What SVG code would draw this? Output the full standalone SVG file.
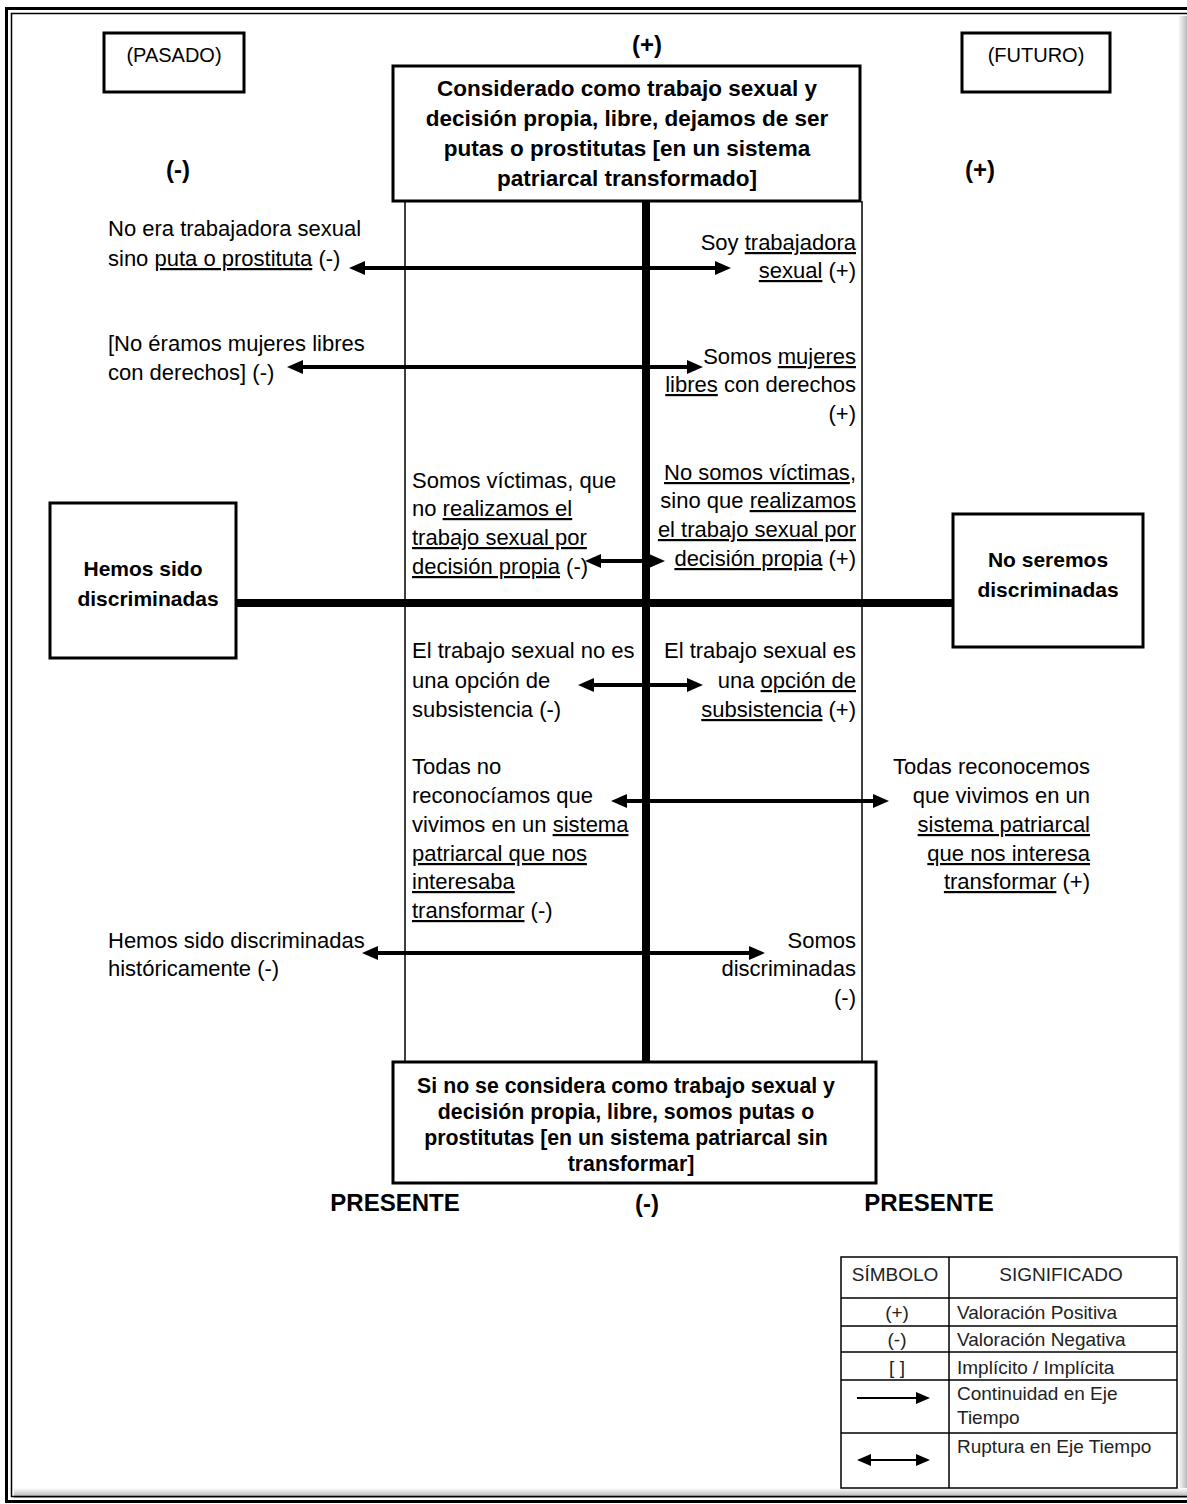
<svg xmlns="http://www.w3.org/2000/svg" width="1187" height="1504" viewBox="0 0 1187 1504">
<style>
.t{font-family:"Liberation Sans",Arial,sans-serif;font-size:22px;fill:#000}
.b{font-weight:bold}
.c{text-anchor:middle}
.r{text-anchor:end}
.u{text-decoration:underline}
.lg{font-size:19px;fill:#222}
.box{fill:#fff;stroke:#000;stroke-width:3}
.thin{stroke:#000;stroke-width:1.5;fill:none}
.axis{stroke:#000;stroke-width:8;fill:none}
.arr{stroke:#000;stroke-width:4;fill:none;marker-start:url(#ah);marker-end:url(#ah)}
.larr{stroke:#000;stroke-width:2;fill:none}
</style>
<defs>
<marker id="ah" viewBox="0 0 16 14" refX="8" refY="7" markerWidth="16" markerHeight="14" markerUnits="userSpaceOnUse" orient="auto-start-reverse"><path d="M0,0 L16,7 L0,14 Z" fill="#000"/></marker>
<marker id="sh" viewBox="0 0 14 12" refX="7" refY="6" markerWidth="14" markerHeight="12" markerUnits="userSpaceOnUse" orient="auto-start-reverse"><path d="M0,0 L14,6 L0,12 Z" fill="#000"/></marker>
<linearGradient id="shr" x1="0" x2="1" y1="0" y2="0"><stop offset="0" stop-color="#fff"/><stop offset="1" stop-color="#bbb"/></linearGradient>
<linearGradient id="shb" x1="0" x2="0" y1="0" y2="1"><stop offset="0" stop-color="#fff"/><stop offset="1" stop-color="#aaa"/></linearGradient>
</defs>
<rect width="1187" height="1504" fill="#fff"/>
<g id="frame">
<rect x="1178" y="16" width="9" height="1480" fill="url(#shr)"/>
<rect x="14" y="1488" width="1173" height="10" fill="url(#shb)"/>
<rect x="6.5" y="8.5" width="1200" height="1493" fill="none" stroke="#000" stroke-width="3"/>
<rect x="11.5" y="13.5" width="1200" height="1483" fill="none" stroke="#000" stroke-width="1.5"/>
</g>
<g id="connectors">
<line class="thin" x1="405" y1="201" x2="405" y2="1062"/>
<line class="thin" x1="862" y1="201" x2="862" y2="1062"/>
<line class="axis" x1="646" y1="201" x2="646" y2="1062"/>
<line class="axis" x1="236" y1="603" x2="953" y2="603"/>
<line class="arr" x1="357" y1="268" x2="723" y2="268"/>
<line class="arr" x1="295" y1="367" x2="695" y2="367"/>
<line class="arr" x1="593" y1="561" x2="657" y2="561"/>
<line class="arr" x1="586" y1="685" x2="695" y2="685"/>
<line class="arr" x1="619" y1="801" x2="881" y2="801"/>
<line class="arr" x1="370" y1="953" x2="757" y2="953"/>
</g>
<g id="pasado">
<rect class="box" x="104" y="33" width="140" height="59"/>
<text class="t c" x="174" y="62" style="font-size:20px">(PASADO)</text>
</g>
<g id="futuro">
<rect class="box" x="962" y="33" width="148" height="59"/>
<text class="t c" x="1036" y="62" style="font-size:20px">(FUTURO)</text>
</g>
<g id="signs">
<text class="t b c" x="647" y="53" style="font-size:24px">(+)</text>
<text class="t b c" x="178" y="178" style="font-size:24px">(-)</text>
<text class="t b c" x="980" y="178" style="font-size:24px">(+)</text>
<text class="t b c" x="647" y="1212" style="font-size:24px">(-)</text>
<text class="t b c" x="395" y="1211" style="font-size:24px">PRESENTE</text>
<text class="t b c" x="929" y="1211" style="font-size:24px">PRESENTE</text>
</g>
<g id="top-box">
<rect class="box" x="393" y="66" width="467" height="135"/>
<text class="t b c" x="627" y="96" style="font-size:22.5px">Considerado como trabajo sexual y</text>
<text class="t b c" x="627" y="126" style="font-size:22.5px">decisión propia, libre, dejamos de ser</text>
<text class="t b c" x="627" y="156" style="font-size:22.5px">putas o prostitutas [en un sistema</text>
<text class="t b c" x="627" y="186" style="font-size:22.5px">patriarcal transformado]</text>
</g>
<g id="bottom-box">
<rect class="box" x="393" y="1062" width="483" height="121"/>
<text class="t b c" x="626" y="1093" style="font-size:21.3px">Si no se considera como trabajo sexual y</text>
<text class="t b c" x="626" y="1119" style="font-size:21.3px">decisión propia, libre, somos putas o</text>
<text class="t b c" x="626" y="1145" style="font-size:21.3px">prostitutas [en un sistema patriarcal sin</text>
<text class="t b c" x="631" y="1171" style="font-size:21.3px">transformar]</text>
</g>
<g id="left-box">
<rect class="box" x="50" y="503" width="186" height="155"/>
<text class="t b c" x="143" y="576" style="font-size:21px">Hemos sido</text>
<text class="t b c" x="148" y="606" style="font-size:21px">discriminadas</text>
</g>
<g id="right-box">
<rect class="box" x="953" y="514" width="190" height="133"/>
<text class="t b c" x="1048" y="567" style="font-size:21px">No seremos</text>
<text class="t b c" x="1048" y="597" style="font-size:21px">discriminadas</text>
</g>
<g id="l1">
<text class="t" x="108" y="236">No era trabajadora sexual</text>
<text class="t" x="108" y="266">sino <tspan class="u">puta o prostituta</tspan> (-)</text>
</g>
<g id="r1">
<text class="t r" x="856" y="250">Soy <tspan class="u">trabajadora</tspan></text>
<text class="t r" x="856" y="278"><tspan class="u">sexual</tspan> (+)</text>
</g>
<g id="l2">
<text class="t" x="108" y="351">[No éramos mujeres libres</text>
<text class="t" x="108" y="380">con derechos] (-)</text>
</g>
<g id="r2">
<text class="t r" x="856" y="364">Somos <tspan class="u">mujeres</tspan></text>
<text class="t r" x="856" y="392"><tspan class="u">libres</tspan> con derechos</text>
<text class="t r" x="856" y="421">(+)</text>
</g>
<g id="l3">
<text class="t" x="412" y="488">Somos víctimas, que</text>
<text class="t" x="412" y="516">no <tspan class="u">realizamos  el</tspan></text>
<text class="t" x="412" y="545"><tspan class="u">trabajo sexual por</tspan></text>
<text class="t" x="412" y="574"><tspan class="u">decisión propia</tspan> (-)</text>
</g>
<g id="r3">
<text class="t r" x="856" y="480"><tspan class="u">No somos víctimas</tspan>,</text>
<text class="t r" x="856" y="508">sino que <tspan class="u">realizamos</tspan></text>
<text class="t r" x="856" y="537"><tspan class="u">el trabajo sexual por</tspan></text>
<text class="t r" x="856" y="566"><tspan class="u">decisión propia</tspan> (+)</text>
</g>
<g id="l4">
<text class="t" x="412" y="658">El trabajo sexual no es</text>
<text class="t" x="412" y="688">una opción de</text>
<text class="t" x="412" y="717">subsistencia (-)</text>
</g>
<g id="r4">
<text class="t r" x="856" y="658">El trabajo sexual es</text>
<text class="t r" x="856" y="688">una <tspan class="u">opción de</tspan></text>
<text class="t r" x="856" y="717"><tspan class="u">subsistencia</tspan> (+)</text>
</g>
<g id="l5">
<text class="t" x="412" y="774">Todas no</text>
<text class="t" x="412" y="803">reconocíamos que</text>
<text class="t" x="412" y="832">vivimos en un <tspan class="u">sistema</tspan></text>
<text class="t" x="412" y="861"><tspan class="u">patriarcal que nos</tspan></text>
<text class="t" x="412" y="889"><tspan class="u">interesaba</tspan></text>
<text class="t" x="412" y="918"><tspan class="u">transformar</tspan> (-)</text>
</g>
<g id="r5">
<text class="t r" x="1090" y="774">Todas reconocemos</text>
<text class="t r" x="1090" y="803">que vivimos en un</text>
<text class="t r" x="1090" y="832"><tspan class="u">sistema patriarcal</tspan></text>
<text class="t r" x="1090" y="861"><tspan class="u">que nos interesa</tspan></text>
<text class="t r" x="1090" y="889"><tspan class="u">transformar</tspan> (+)</text>
</g>
<g id="l6">
<text class="t" x="108" y="948">Hemos sido discriminadas</text>
<text class="t" x="108" y="976">históricamente (-)</text>
</g>
<g id="r6">
<text class="t r" x="856" y="948">Somos</text>
<text class="t r" x="856" y="976">discriminadas</text>
<text class="t r" x="856" y="1005">(-)</text>
</g>
<g id="legend">
<rect x="841" y="1257" width="336" height="231" fill="#fff" stroke="#000" stroke-width="1.5"/>
<line class="thin" x1="949" y1="1257" x2="949" y2="1488"/>
<line class="thin" x1="841" y1="1298" x2="1177" y2="1298"/>
<line class="thin" x1="841" y1="1326" x2="1177" y2="1326"/>
<line class="thin" x1="841" y1="1352" x2="1177" y2="1352"/>
<line class="thin" x1="841" y1="1380" x2="1177" y2="1380"/>
<line class="thin" x1="841" y1="1433" x2="1177" y2="1433"/>
<text class="t lg c" x="895" y="1281">SÍMBOLO</text>
<text class="t lg c" x="1061" y="1281">SIGNIFICADO</text>
<text class="t lg c" x="897" y="1319">(+)</text>
<text class="t lg c" x="897" y="1346">(-)</text>
<text class="t lg c" x="897" y="1374">[ ]</text>
<text class="t lg" x="957" y="1319">Valoración Positiva</text>
<text class="t lg" x="957" y="1346">Valoración Negativa</text>
<text class="t lg" x="957" y="1374">Implícito / Implícita</text>
<text class="t lg" x="957" y="1400">Continuidad en Eje</text>
<text class="t lg" x="957" y="1424">Tiempo</text>
<text class="t lg" x="957" y="1453">Ruptura en Eje Tiempo</text>
<line class="larr" x1="857" y1="1398" x2="923" y2="1398" marker-end="url(#sh)"/>
<line class="larr" x1="864" y1="1460" x2="923" y2="1460" marker-start="url(#sh)" marker-end="url(#sh)"/>
</g>
</svg>
